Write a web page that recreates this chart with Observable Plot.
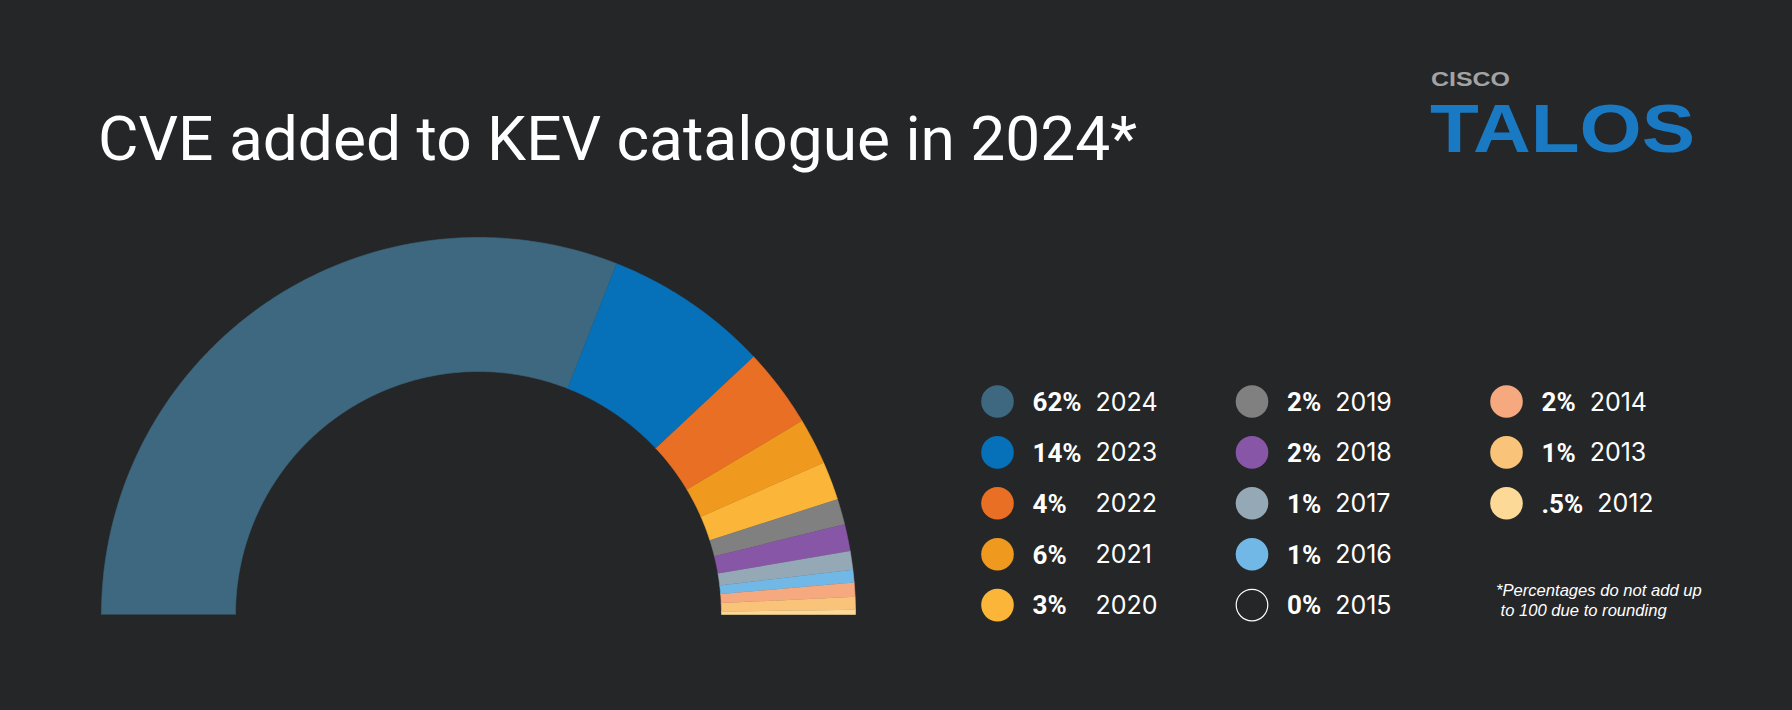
<!DOCTYPE html>
<html>
<head>
<meta charset="utf-8">
<script src="https://cdn.jsdelivr.net/npm/d3@7"></script>
<script src="https://cdn.jsdelivr.net/npm/@observablehq/plot@0.6"></script>
<style>
  html, body { margin: 0; padding: 0; background: #252628; }
  #page { position: relative; width: 1792px; height: 710px; background: #252628; overflow: hidden; }
  #header { position: absolute; left: 0; top: 0; }
  #donut { position: absolute; left: 0; top: 200px; }
  #legend { position: absolute; left: 960px; top: 340px; }
  #note { position: absolute; left: 1496px; top: 580.6px; font: italic 16.6px "Liberation Sans", Arial, sans-serif;
          line-height: 20.6px; color: #ffffff; white-space: pre; }
</style>
</head>
<body>
<div id="page">
  <div id="header"></div>
  <div id="donut"></div>
  <div id="legend"></div>
  <div id="note">*Percentages do not add up
 to 100 due to rounding</div>
</div>
<script>
// ---- data ----
const titleText = "CVE added to KEV catalogue in 2024*";
const years = ["2024", "2023", "2022", "2021", "2020", "2019", "2018", "2017", "2016", "2015", "2014", "2013", "2012"];
// slice sizes as drawn in the reference (percent of the half ring)
const shares = [62, 14.1, 6.8, 4.0, 3.3, 2.2, 2.3, 1.6, 1.1, 0, 1.2, 1.1, 0.4];
// percentages as printed in the legend
const pctLabels = ["62%", "14%", "4%", "6%", "3%", "2%", "2%", "1%", "1%", "0%", "2%", "1%", ".5%"];
const colors = ["#3d6880", "#0670b8", "#e96f24", "#f0991f", "#fbb63a", "#808080", "#8856a7",
                "#94a9b5", "#72b8e7", "#252628", "#f6a97e", "#f9c47a", "#fdd997"];

// ---- header (title + logo) ----
const header = d3.select("#header").append("svg").attr("width", 1792).attr("height", 200);
header.append("text").attr("x", 98).attr("y", 160)
  .attr("textLength", 1039).attr("lengthAdjust", "spacingAndGlyphs")
  .style("font", "400 62px Roboto").attr("fill", "#ffffff").text(titleText);
header.append("text").attr("x", 1431).attr("y", 85.5)
  .attr("textLength", 79).attr("lengthAdjust", "spacingAndGlyphs")
  .style("font", "700 20px 'Liberation Sans'").attr("fill", "#a3a3a3").text("CISCO");
header.append("text").attr("x", 1430).attr("y", 151.7)
  .attr("textLength", 265).attr("lengthAdjust", "spacingAndGlyphs")
  .style("font", "700 68px 'Liberation Sans'").attr("fill", "#1a79c3").text("TALOS");

// ---- donut (half ring) ----
const color = {domain: years, range: colors};
const total = d3.sum(shares);
const innerRatio = 243 / 377;
let cum = 0;
const slices = years.map((y, i) => {
  const a0 = cum / total; cum += shares[i];
  return {year: y, share: shares[i], a0, a1: cum / total};
}).filter(d => d.share > 0);
const ringPts = [];
for (const s of slices) {
  const n = Math.max(2, Math.ceil((s.a1 - s.a0) * 360));
  const t0 = Math.PI * (1 - s.a0), t1 = Math.PI * (1 - s.a1);
  for (let k = 0; k <= n; k++) { const t = t0 + (t1 - t0) * k / n; ringPts.push({year: s.year, x: Math.cos(t), y: Math.sin(t)}); }
  for (let k = n; k >= 0; k--) { const t = t0 + (t1 - t0) * k / n; ringPts.push({year: s.year, x: innerRatio * Math.cos(t), y: innerRatio * Math.sin(t)}); }
}
const W = 960, H = 440, cx = 478, cy = 414, R = 377;
const donut = Plot.plot({
  width: W, height: H, margin: 0,
  style: {background: "transparent"},
  x: {domain: [-cx / R, (W - cx) / R], range: [0, W], axis: null},
  y: {domain: [-(H - cy) / R, cy / R], range: [H, 0], axis: null},
  color,
  marks: [
    Plot.line(ringPts, {x: "x", y: "y", z: "year", fill: "year", stroke: "year", strokeWidth: 0.6, curve: "linear"})
  ]
});
document.getElementById("donut").appendChild(donut);

// ---- legend ----
const canvas = document.createElement("canvas").getContext("2d");
canvas.font = "700 26px Roboto";
const wPct = s => canvas.measureText(s).width;
const rows = years.map((y, i) => ({year: y, pct: pctLabels[i], share: shares[i], col: Math.floor(i / 5), row: i % 5}));
const colStep = (546 - 37) / 2;
for (const d of rows) {
  const colDigits = rows.filter(e => e.col === d.col && /^\d/.test(e.pct)).map(e => wPct(e.pct));
  const w = Math.max(wPct(d.pct), d3.max(colDigits));
  d.yearX = d.col + (w + 14) / colStep;
}
const legend = Plot.plot({
  width: 832, height: 300, margin: 0,
  style: {background: "transparent", color: "#ffffff"},
  x: {domain: [0, 2], range: [37, 546], axis: null},
  y: {domain: [0, 4], range: [61, 264.6], axis: null},
  color,
  marks: [
    Plot.dot(rows.filter(d => d.share > 0), {x: "col", y: "row", r: 16.3, fill: "year"}),
    Plot.dot(rows.filter(d => d.share === 0), {x: "col", y: "row", r: 15.8, fill: "none", stroke: "#ffffff", strokeWidth: 1.2}),
    Plot.text(rows, {x: "col", y: "row", text: "pct", dx: 35, dy: 1, textAnchor: "start", fontSize: 26, fontWeight: 700, fontFamily: "Roboto", fill: "#ffffff"}),
    Plot.text(rows, {x: "yearX", y: "row", text: "year", dx: 35, dy: 1, textAnchor: "start", fontSize: 25, fontWeight: 400, fontFamily: "Inter", fill: "#ffffff"})
  ]
});
document.getElementById("legend").appendChild(legend);
</script>
</body>
</html>
